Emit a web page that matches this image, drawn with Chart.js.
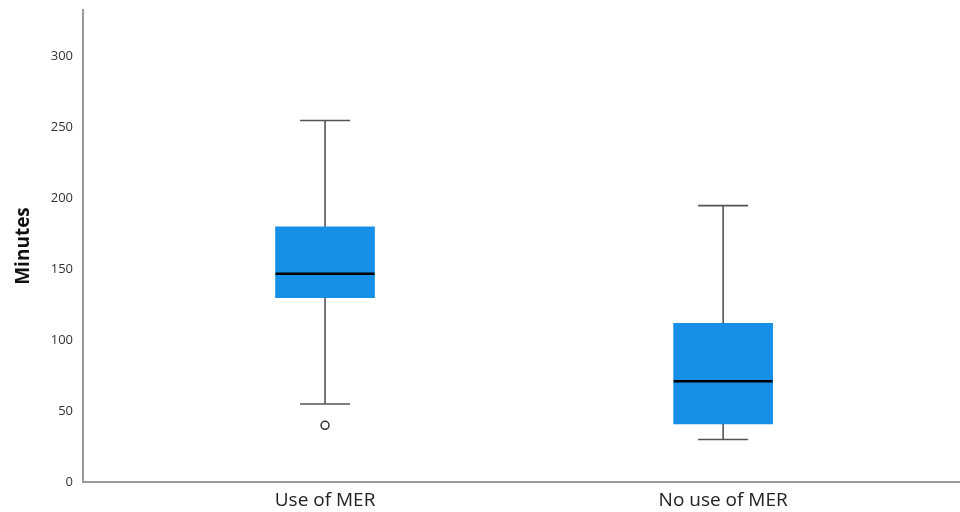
<!DOCTYPE html>
<html>
<head>
<meta charset="utf-8">
<script src="https://cdn.jsdelivr.net/npm/chart.js@4/dist/chart.umd.min.js"></script>
<style>
  html, body { margin: 0; padding: 0; background: #fff; }
  #wrap { width: 960px; height: 512px; }
</style>
</head>
<body>
<div id="wrap"><canvas id="boxChart"></canvas></div>
<script>
// Box plot: minutes by use of MER

const categories = ['Use of MER', 'No use of MER'];
const whiskerLow = [55, 30];
const q1 = [130, 41];
const median = [147, 71];
const q3 = [180, 112];
const whiskerHigh = [255, 195];
const outliers = [{ group: 0, value: 40 }];
const yTicks = [0, 50, 100, 150, 200, 250, 300];

const BOX_COLOR = '#1590e6';
const WHISKER_COLOR = '#555';

// whiskers, caps and median lines drawn from scale values
const boxLines = {
  id: 'boxLines',
  afterDatasetsDraw(chart) {
    const { ctx, scales: { x, y } } = chart;
    ctx.save();
    categories.forEach((c, i) => {
      const cx = x.getPixelForValue(i + 1);
      ctx.strokeStyle = WHISKER_COLOR;
      ctx.lineWidth = 1.6;
      ctx.beginPath();
      ctx.moveTo(cx, y.getPixelForValue(q3[i]));
      ctx.lineTo(cx, y.getPixelForValue(whiskerHigh[i]));
      ctx.moveTo(cx, y.getPixelForValue(q1[i]));
      ctx.lineTo(cx, y.getPixelForValue(whiskerLow[i]));
      ctx.moveTo(cx - 25, y.getPixelForValue(whiskerHigh[i]));
      ctx.lineTo(cx + 25, y.getPixelForValue(whiskerHigh[i]));
      ctx.moveTo(cx - 25, y.getPixelForValue(whiskerLow[i]));
      ctx.lineTo(cx + 25, y.getPixelForValue(whiskerLow[i]));
      ctx.stroke();

      ctx.strokeStyle = '#000';
      ctx.lineWidth = 2.5;
      ctx.beginPath();
      ctx.moveTo(cx - 49.5, y.getPixelForValue(median[i]));
      ctx.lineTo(cx + 49.5, y.getPixelForValue(median[i]));
      ctx.stroke();
    });
    ctx.restore();
  }
};

new Chart(document.getElementById('boxChart'), {
  type: 'bar',
  data: {
    datasets: [
      {
        type: 'bar',
        label: 'box',
        data: categories.map((c, i) => ({ x: i + 1, y: [q1[i], q3[i]] })),
        backgroundColor: BOX_COLOR,
        borderWidth: 0,
        barThickness: 99,
      },
      {
        type: 'scatter',
        label: 'outliers',
        data: outliers.map(o => ({ x: o.group + 1, y: o.value })),
        pointRadius: 4,
        pointBackgroundColor: '#fff',
        pointBorderColor: '#333',
        pointBorderWidth: 1.5,
      },
    ],
  },
  options: {
    responsive: true,
    maintainAspectRatio: false,
    animation: false,
    layout: { autoPadding: false, padding: { top: 10, right: 0, left: 12, bottom: 0 } },
    plugins: {
      legend: { display: false },
      tooltip: { enabled: false },
    },
    scales: {
      x: {
        type: 'linear',
        offset: false,
        min: 0.392,
        max: 2.595,
        grid: { display: false, drawTicks: false },
        border: { color: '#9a9a9a', width: 2 },
        afterBuildTicks: s => { s.ticks = categories.map((c, i) => ({ value: i + 1 })); },
        afterFit: s => { s.height = 30; s.paddingLeft = 0; s.paddingRight = 0; },
        ticks: {
          padding: 7,
          color: '#222',
          font: { family: 'Open Sans', size: 19 },
          callback: v => categories[v - 1],
        },
      },
      y: {
        min: 0,
        max: 333,
        grid: { display: false, drawTicks: false },
        border: { color: '#9a9a9a', width: 2 },
        afterBuildTicks: s => { s.ticks = yTicks.map(v => ({ value: v })); },
        afterFit: s => { s.width = 71; s.paddingTop = 0; s.paddingBottom = 0; },
        ticks: {
          padding: 10,
          color: '#333',
          font: { family: 'Open Sans', size: 13 },
        },
        title: {
          display: true,
          text: 'Minutes',
          color: '#111',
          padding: { top: 0, bottom: 10 },
          font: { family: 'Open Sans', size: 19, weight: 'bold' },
        },
      },
    },
  },
  plugins: [boxLines],
});
</script>
</body>
</html>
